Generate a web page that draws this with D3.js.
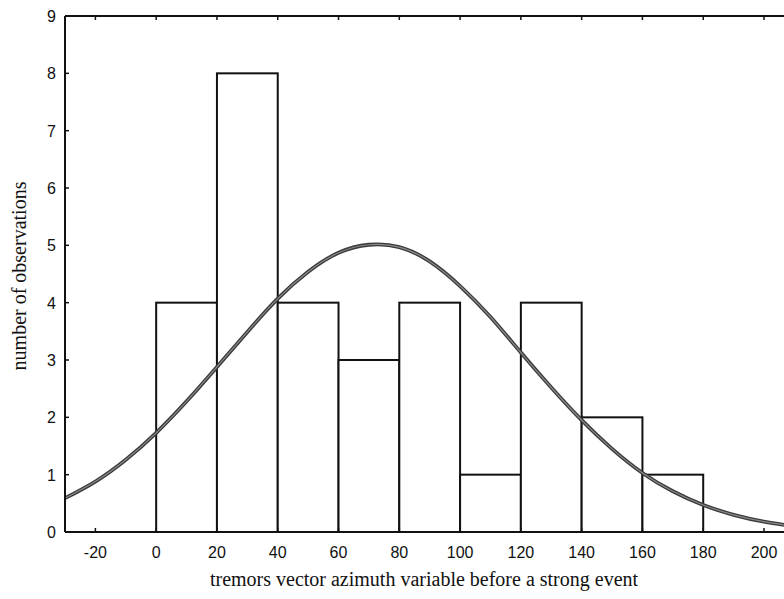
<!DOCTYPE html>
<html lang="en">
<head>
    <meta charset="UTF-8">
    <title>Tremors vector azimuth histogram</title>
    <script src="https://cdnjs.cloudflare.com/ajax/libs/d3/7.8.5/d3.min.js"></script>
    <style>
        * { margin: 0; padding: 0; }
        body { background: #ffffff; width: 784px; height: 599px; overflow: hidden; }
        svg { display: block; }
        .tick-label { font-family: "Liberation Sans", Arial, sans-serif; font-size: 16px; fill: #111; }
        .axis-title { font-family: "Liberation Serif", "Times New Roman", serif; font-size: 20px; fill: #111; }
    </style>
</head>
<body>
<div id="chart"></div>

<script>
    // Histogram bins (azimuth, degrees) and counts
    const binStarts = [0, 20, 40, 60, 80, 100, 120, 140, 160];
    const binWidth = 20;
    const counts = [4, 8, 4, 3, 4, 1, 4, 2, 1];

    // Fitted normal curve
    const curveX = [-30, -20, -10, 0, 10, 20, 30, 40, 50, 60, 70, 80, 90, 100, 110, 120, 130, 140, 150, 160, 170, 180, 190, 200, 210];
    const curveY = [0.59, 0.88, 1.26, 1.73, 2.28, 2.88, 3.49, 4.07, 4.54, 4.87, 5.01, 4.97, 4.72, 4.29, 3.75, 3.13, 2.52, 1.95, 1.45, 1.03, 0.71, 0.47, 0.30, 0.18, 0.10];

    // Tick labels
    const xTicks = [-20, 0, 20, 40, 60, 80, 100, 120, 140, 160, 180, 200];
    const yTicks = [0, 1, 2, 3, 4, 5, 6, 7, 8, 9];

    const W = 784, H = 599;
    const plot = {left: 65, top: 16, bottom: 532};

    const svg = d3.select("#chart").append("svg")
        .attr("width", W)
        .attr("height", H);

    const x = d3.scaleLinear().domain([-30, 200]).range([plot.left, 764]);
    const y = d3.scaleLinear().domain([0, 9]).range([plot.bottom, plot.top]);
    const xMax = x.invert(W + 10);

    // bars
    svg.selectAll("rect.bar")
        .data(binStarts)
        .enter()
        .append("rect")
        .attr("class", "bar")
        .attr("x", d => x(d))
        .attr("y", (d, i) => y(counts[i]))
        .attr("width", d => x(d + binWidth) - x(d))
        .attr("height", (d, i) => y(0) - y(counts[i]))
        .attr("fill", "#fff")
        .attr("stroke", "#111")
        .attr("stroke-width", 2);

    // normal curve
    const line = d3.line()
        .x(d => x(d[0]))
        .y(d => y(d[1]))
        .curve(d3.curveNatural);
    const pts = curveX.map((v, i) => [v, curveY[i]]);

    svg.append("path")
        .datum(pts)
        .attr("d", line)
        .attr("fill", "none")
        .attr("stroke", "#3a3a3a")
        .attr("stroke-width", 3.8);
    svg.append("path")
        .datum(pts)
        .attr("d", line)
        .attr("fill", "none")
        .attr("stroke", "#8a8a8a")
        .attr("stroke-width", 1.2);

    // frame: left, bottom, top
    svg.append("line")
        .attr("x1", x(-30)).attr("x2", x(-30))
        .attr("y1", y(9)).attr("y2", y(0))
        .attr("stroke", "#111").attr("stroke-width", 2);
    svg.append("line")
        .attr("x1", x(-30)).attr("x2", x(xMax))
        .attr("y1", y(0)).attr("y2", y(0))
        .attr("stroke", "#111").attr("stroke-width", 2.2);
    svg.append("line")
        .attr("x1", x(-30)).attr("x2", x(xMax))
        .attr("y1", y(9)).attr("y2", y(9))
        .attr("stroke", "#111").attr("stroke-width", 1.8);

    // inner ticks
    svg.selectAll("line.xtick-b")
        .data(xTicks)
        .enter().append("line")
        .attr("x1", d => x(d)).attr("x2", d => x(d))
        .attr("y1", y(0)).attr("y2", y(0) - 4)
        .attr("stroke", "#111").attr("stroke-width", 1.5);
    svg.selectAll("line.xtick-t")
        .data(xTicks)
        .enter().append("line")
        .attr("x1", d => x(d)).attr("x2", d => x(d))
        .attr("y1", y(9)).attr("y2", y(9) + 4)
        .attr("stroke", "#111").attr("stroke-width", 1.5);
    svg.selectAll("line.ytick")
        .data(yTicks)
        .enter().append("line")
        .attr("x1", x(-30)).attr("x2", x(-30) + 4)
        .attr("y1", d => y(d)).attr("y2", d => y(d))
        .attr("stroke", "#111").attr("stroke-width", 1.5);

    // tick labels
    svg.selectAll("text.xl")
        .data(xTicks)
        .enter().append("text")
        .attr("class", "tick-label")
        .attr("x", d => x(d))
        .attr("y", 558)
        .attr("text-anchor", "middle")
        .text(d => d);
    svg.selectAll("text.yl")
        .data(yTicks)
        .enter().append("text")
        .attr("class", "tick-label")
        .attr("x", 56)
        .attr("y", d => y(d) + 6)
        .attr("text-anchor", "end")
        .text(d => d);

    // axis titles
    svg.append("text")
        .attr("class", "axis-title")
        .attr("x", 424)
        .attr("y", 586)
        .attr("text-anchor", "middle")
        .text("tremors vector azimuth variable before a strong event");
    svg.append("text")
        .attr("class", "axis-title")
        .attr("transform", "translate(26,276) rotate(-90)")
        .attr("text-anchor", "middle")
        .text("number of observations");
</script>
</body>
</html>
